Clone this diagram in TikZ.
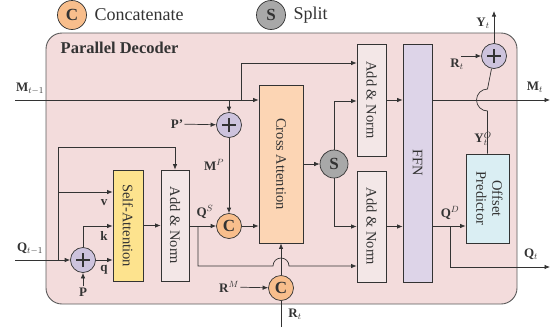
\documentclass[tikz,border=0pt]{standalone}
\usepackage{fontspec}
\setmainfont{Liberation Serif}
\usetikzlibrary{arrows.meta, positioning, calc}
\definecolor{panelpink}{HTML}{F3DCDC}
\definecolor{paneledge}{HTML}{5A5A5A}
\definecolor{linedark}{HTML}{333333}
\definecolor{safill}{HTML}{FDE38E}
\definecolor{anfill}{HTML}{F3E7E7}
\definecolor{cafill}{HTML}{FCD5B4}
\definecolor{ffnfill}{HTML}{DDD4E8}
\definecolor{opfill}{HTML}{DAEEF3}
\definecolor{plusfill}{HTML}{CDC3DD}
\definecolor{catfill}{HTML}{F8BE8C}
\definecolor{splitfill}{HTML}{A8A8A8}

\begin{document}
\begin{tikzpicture}[x=1pt, y=-1pt, color=linedark, line width=0.7pt,
    >={Latex[length=5.5pt,width=4.5pt]},
    box/.style={draw, line width=0.8pt, inner sep=0pt, font=\fontsize{14.5}{16}\selectfont},
    plusnode/.style={circle, draw, fill=plusfill, minimum size=25pt, inner sep=0pt,
        path picture={\draw[line width=1.1pt] (path picture bounding box.center) ++(-7pt,0pt) -- ++(14pt,0pt)
            (path picture bounding box.center) ++(0pt,-7pt) -- ++(0pt,14pt);}},
    catnode/.style={circle, draw, fill=catfill, minimum size=25pt, inner sep=0pt, font=\fontsize{17}{17}\selectfont\bfseries},
    splitnode/.style={circle, draw, fill=splitfill, minimum size=28pt, inner sep=0pt, font=\fontsize{17}{17}\selectfont\bfseries},
    lbl/.style={font=\fontsize{13}{15}\selectfont, inner sep=1pt}]
    \useasboundingbox (0,0) rectangle (554,327);
    % legend
    \node[catnode, minimum size=29pt] (legc) at (72,15) {C};
    \node[anchor=west, font=\fontsize{18}{20}\selectfont] (legctext) at (91,15) {Concatenate};
    \node[splitnode, minimum size=29pt] (legs) at (271,15) {S};
    \node[anchor=west, font=\fontsize{18}{20}\selectfont] (legstext) at (290,15) {Split};
    % panel
    \draw[draw=paneledge, fill=panelpink, line width=0.9pt, rounded corners=16pt] (46,33) rectangle (517,304);
    \node[anchor=west, font=\fontsize{16.5}{18}\selectfont\bfseries] (title) at (57,48) {Parallel Decoder};
    % blocks
    \node[box, fill=safill, minimum width=30pt, minimum height=111pt] (sa) at (128,225.5) {\rotatebox{-90}{Self-Attention}};
    \node[box, fill=anfill, minimum width=28pt, minimum height=111pt] (an1) at (175,225.5) {\rotatebox{-90}{Add \& Norm}};
    \node[box, fill=cafill, minimum width=44pt, minimum height=158pt] (ca) at (281,164) {\rotatebox{-90}{Cross Attention}};
    \node[box, fill=anfill, minimum width=29pt, minimum height=112pt] (an2) at (371.5,100) {\rotatebox{-90}{Add \& Norm}};
    \node[box, fill=anfill, minimum width=29pt, minimum height=111pt] (an3) at (371.5,226.5) {\rotatebox{-90}{Add \& Norm}};
    \node[box, fill=ffnfill, minimum width=29pt, minimum height=238pt] (ffn) at (417.5,163) {\rotatebox{-90}{FFN}};
    \node[box, fill=opfill, minimum width=43pt, minimum height=89pt] (op) at (487.5,198.5)
        {\rotatebox{-90}{\begin{tabular}{@{}c@{}}Offset\\Predictor\end{tabular}}};
    % operators
    \node[plusnode] (pl1) at (83,260) {};
    \node[plusnode] (pl2) at (229,125) {};
    \node[plusnode] (pl3) at (494,56) {};
    \node[catnode] (c1) at (229,226) {C};
    \node[catnode] (c2) at (281,288) {C};
    \node[splitnode] (s1) at (334,164) {S};
    % memory path
    \coordinate (min) at (15,100);
    \coordinate (mbr) at (241,100);
    \draw[->] (min) -- (ca.west |- min);
    \draw[->] (mbr) |- (an2.west |- 0,63);
    \draw[->] (pl2 |- min) -- (pl2);
    \node[lbl] (mlbl) at (30,89) {\textbf{M}$_{t-1}$};
    \node[lbl] (pprime) at (177,124) {\textbf{P'}};
    \draw[->] (pprime) -- (pl2);
    \draw[->] (pl2) -- (c1);
    \node[lbl] (mp) at (214,165) {\textbf{M}$^{P}$};
    % query path
    \coordinate (qin) at (15,260);
    \coordinate (qbr) at (58,260);
    \draw[->] (qin) -- (pl1);
    \node[lbl] (qlbl) at (30,249) {\textbf{Q}$_{t-1}$};
    \draw[->] (qbr) |- (an1.north |- 0,147) -- (an1.north);
    \draw[->] (qbr |- 0,192) -- (sa.west |- 0,192);
    \draw[->] (pl1) |- (sa.west |- 0,226);
    \draw[->] (pl1) -- (sa.west |- pl1);
    \node[lbl] (vlbl) at (104,203) {\textbf{v}};
    \node[lbl] (klbl) at (104,236) {\textbf{k}};
    \node[lbl] (qqlbl) at (104,270) {\textbf{q}};
    \node[lbl] (pb) at (83,292) {\textbf{P}};
    \draw[->] (pb) -- (pl1);
    \draw[->] (sa) -- (an1);
    \draw[->] (an1.east |- c1) -- (c1);
    \node[lbl] (qs) at (205,212) {\textbf{Q}$^{S}$};
    \draw[->] (c1) -- (ca.west |- c1);
    \coordinate (qsb) at (198,226);
    \draw[->] (qsb) |- (273,266) arc[start angle=180, end angle=360, radius=8] -- (an3.west |- 0,266);
    % reference points
    \coordinate (rtin) at (281,327);
    \draw (rtin) -- (c2);
    \draw[->] (c2) -- (ca.south);
    \node[lbl] (rtb) at (295,314) {\textbf{R}$_{t}$};
    \node[lbl] (rm) at (229,287) {\textbf{R}$^{M}$};
    \draw[->] (rm) -- (c2);
    % split
    \draw[->] (ca.east |- s1) -- (s1);
    \draw[->] (s1) |- (an2.west |- 0,101);
    \draw[->] (s1) |- (an3.west);
    \draw[->] (an2) -- (ffn.west |- an2);
    \draw[->] (an3) -- (ffn.west |- an3);
    % outputs
    \coordinate (mout) at (550,100);
    \draw[->] (ffn.east |- mout) -- (mout);
    \node[lbl] (mt) at (535,87) {\textbf{M}$_{t}$};
    \coordinate (qdb) at (450,226);
    \coordinate (qout) at (550,267);
    \draw[->] (ffn.east |- qdb) -- (op.west |- qdb);
    \draw[->] (qdb) |- (qout);
    \node[lbl] (qd) at (450,213) {\textbf{Q}$^{D}$};
    \node[lbl] (qt) at (531,254) {\textbf{Q}$_{t}$};
    \draw (op.north) -- (op.north |- 0,111) arc[start angle=90, end angle=270, radius=11] -- (pl3);
    \node[lbl, inner sep=0pt] (yo) at (483,139) {\textbf{Y}$_{t}^{O}$};
    \coordinate (yout) at (494,11);
    \draw[->] (pl3) -- (yout);
    \node[lbl] (yt) at (483,23) {\textbf{Y}$_{t}$};
    \coordinate (rtr) at (461,56);
    \draw[->] (rtr) -- (pl3);
    \node[lbl] (rtt) at (457,64) {\textbf{R}$_{t}$};
\end{tikzpicture}
\end{document}
